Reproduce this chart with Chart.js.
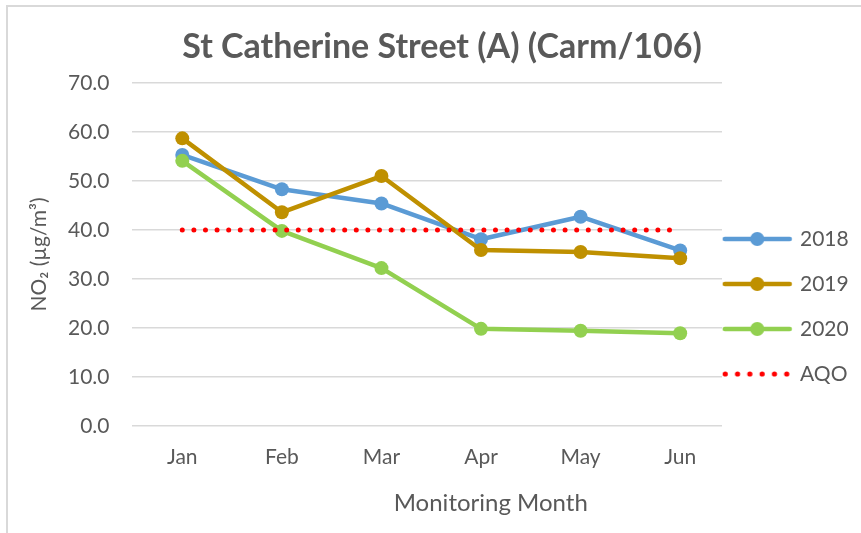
<!DOCTYPE html>
<html>
<head>
<meta charset="utf-8">
<script src="https://cdn.jsdelivr.net/npm/chart.js@4"></script>
<style>
  body { margin: 0; background: #fff; }
  #frame { position: absolute; left: 6px; top: 5px; width: 900px; height: 600px;
           border-left: 2px solid #d9d9d9; border-top: 2px solid #d9d9d9; }
  #wrap { position: absolute; left: 0; top: 0; width: 861px; height: 533px; }
</style>
</head>
<body>
<div id="frame"></div>
<div id="wrap"><canvas id="myChart" width="861" height="533"></canvas></div>
<script>
// data
const months = ['Jan', 'Feb', 'Mar', 'Apr', 'May', 'Jun'];
const no2_2018 = [55.3, 48.3, 45.4, 38.1, 42.7, 35.8];
const no2_2019 = [58.7, 43.6, 51.0, 35.9, 35.5, 34.2];
const no2_2020 = [54.1, 39.8, 32.2, 19.8, 19.4, 18.9];
const aqo = [40, 40, 40, 40, 40, 40];
const yTicks = [0, 10, 20, 30, 40, 50, 60, 70];

const grey = '#595959';
const font = 'Lato';

// legend icons: line with a marker (or dots for AQO)
function makeIcon(color, dotted) {
  const c = document.createElement('canvas');
  c.width = 92; c.height = 20;
  const g = c.getContext('2d');
  g.strokeStyle = color; g.fillStyle = color;
  if (dotted) {
    for (let i = 0; i < 6; i++) {
      g.beginPath(); g.arc(3.5 + i * 12.3, 10, 2.6, 0, Math.PI * 2); g.fill();
    }
  } else {
    g.lineWidth = 4.5; g.lineCap = 'round';
    g.beginPath(); g.moveTo(3, 10); g.lineTo(68, 10); g.stroke();
    g.beginPath(); g.arc(35.5, 10, 7, 0, Math.PI * 2); g.fill();
  }
  return c;
}
const icons = [makeIcon('#5b9bd5'), makeIcon('#bf9000'), makeIcon('#92d050'), makeIcon('#ff0000', true)];

const xTitle = {
  id: 'xTitle',
  afterDraw(chart) {
    const { ctx, chartArea } = chart;
    ctx.save();
    ctx.font = '24px ' + font;
    ctx.fillStyle = grey;
    ctx.textAlign = 'center';
    ctx.textBaseline = 'middle';
    ctx.fillText('Monitoring Month', (chartArea.left + chartArea.right) / 2 + 63.5, 503);
    ctx.restore();
  }
};

const points = vals => vals.map((v, i) => ({ x: i, y: v }));

function series(label, data, color, order) {
  return {
    label: label, data: points(data), borderColor: color, backgroundColor: color,
    borderWidth: 4.5, pointRadius: 7, pointHoverRadius: 7, pointBorderWidth: 0,
    borderJoinStyle: 'round', borderCapStyle: 'round', tension: 0, order: order
  };
}

const ctx = document.getElementById('myChart');

new Chart(ctx, {
  type: 'line',
  data: {
    datasets: [
      series('2018', no2_2018, '#5b9bd5', 3),
      series('2019', no2_2019, '#bf9000', 2),
      series('2020', no2_2020, '#92d050', 1),
      {
        label: 'AQO', data: points(aqo), borderColor: '#ff0000', backgroundColor: '#ff0000',
        borderWidth: 5, borderDash: [0, 11.6], borderCapStyle: 'round',
        pointRadius: 0, pointHoverRadius: 0, order: 0
      }
    ]
  },
  options: {
    responsive: false,
    animation: false,
    layout: { padding: { left: 31, top: 10, right: 8, bottom: 44 } },
    plugins: {
      tooltip: { enabled: false },
      title: {
        display: true,
        text: 'St Catherine Street (A) (Carm/106)',
        color: grey,
        font: { family: font, size: 34, weight: 'bold' },
        padding: { top: 16.6, bottom: 15.6 }
      },
      legend: {
        position: 'right',
        maxWidth: 131,
        title: { display: true, text: '', font: { size: 12 }, padding: { top: 99.6, bottom: 0 } },
        labels: {
          usePointStyle: true,
          pointStyleWidth: 43.5,
          padding: 24,
          color: grey,
          font: { family: font, size: 21 },
          generateLabels(chart) {
            const items = Chart.defaults.plugins.legend.labels.generateLabels(chart);
            items.sort((a, b) => a.datasetIndex - b.datasetIndex);
            items.forEach(it => { it.pointStyle = icons[it.datasetIndex]; });
            return items;
          }
        }
      }
    },
    scales: {
      x: {
        type: 'linear',
        min: -0.5, max: 5.42,
        afterBuildTicks(axis) { axis.ticks = months.map((m, i) => ({ value: i })); },
        grid: { display: false, drawTicks: false },
        border: { display: false },
        ticks: {
          color: grey, font: { family: font, size: 21 }, padding: 19,
          autoSkip: false, maxRotation: 0,
          callback: v => months[v]
        }
      },
      y: {
        min: 0, max: 70,
        afterBuildTicks(axis) { axis.ticks = yTicks.map(v => ({ value: v })); },
        grid: { color: '#d9d9d9', lineWidth: 1.5, drawTicks: false },
        border: { display: false },
        ticks: {
          color: grey, font: { family: font, size: 21 }, padding: 23,
          callback: v => v.toFixed(1)
        },
        title: {
          display: true, text: 'NO₂ (µg/m³)', color: grey,
          font: { family: font, size: 21 }, padding: { top: -4, bottom: -7.2 }
        }
      }
    }
  },
  plugins: [xTitle]
});
</script>
</body>
</html>
